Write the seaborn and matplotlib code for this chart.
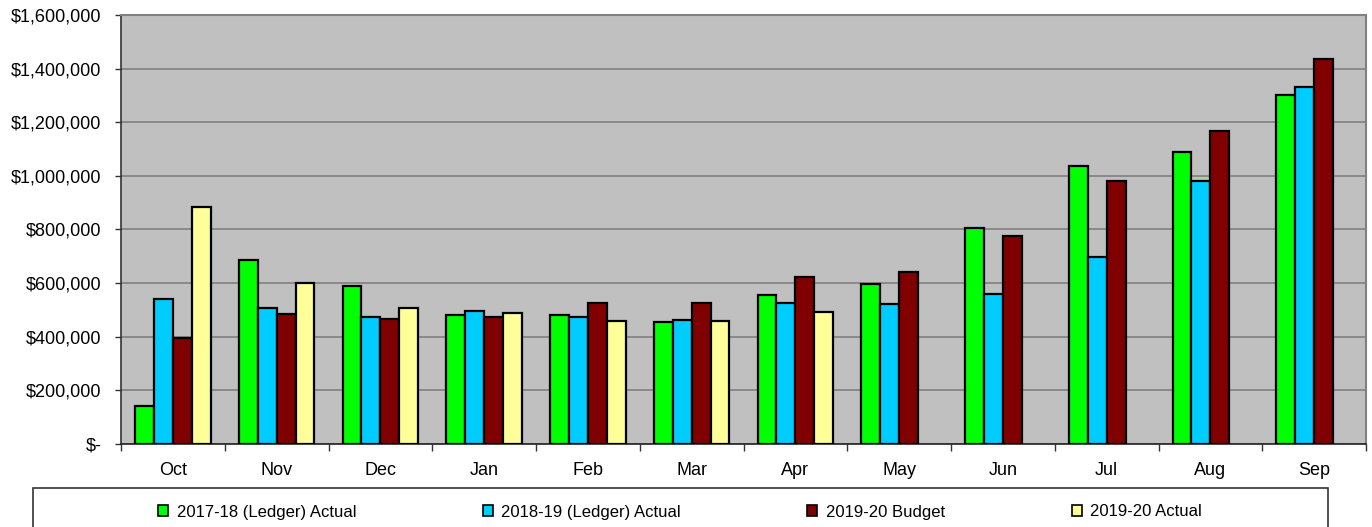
import numpy as np
import pandas as pd
import seaborn as sns
import matplotlib.pyplot as plt
from matplotlib.patches import Patch, Rectangle
from matplotlib.ticker import FuncFormatter, MultipleLocator

months = ['Oct', 'Nov', 'Dec', 'Jan', 'Feb', 'Mar', 'Apr', 'May', 'Jun', 'Jul', 'Aug', 'Sep']
series = ['2017-18 (Ledger) Actual', '2018-19 (Ledger) Actual', '2019-20 Budget', '2019-20 Actual']

actual_1718 = [141000, 687000, 588000, 480000, 482000, 456000, 557000, 597000, 806000, 1038000, 1089000, 1300000]
actual_1819 = [541000, 506000, 472000, 496000, 472000, 462000, 527000, 522000, 558000, 696000, 981000, 1330000]
budget_1920 = [394000, 485000, 465000, 475000, 527000, 527000, 622000, 640000, 777000, 982000, 1167000, 1436000]
actual_1920 = [884000, 602000, 506000, 490000, 459000, 460000, 493000, np.nan, np.nan, np.nan, np.nan, np.nan]

colors = ['#00FF00', '#00CCFF', '#800000', '#FFFF99']

# long format for seaborn
df = pd.DataFrame({
    'month': months * 4,
    'series': np.repeat(series, len(months)),
    'value': actual_1718 + actual_1819 + budget_1920 + actual_1920,
})

sns.set_style('white')
plt.rcParams['font.family'] = ['Liberation Sans', 'DejaVu Sans']
plt.rcParams['text.color'] = 'black'

fig = plt.figure(figsize=(13.72, 5.27), dpi=100)
ax = fig.add_axes([121 / 1372, 1 - 444 / 527, 1245 / 1372, 429 / 527])
ax.set_facecolor('#C0C0C0')

sns.barplot(data=df, x='month', y='value', hue='series', order=months, hue_order=series,
            palette=colors, saturation=1, width=0.73, edgecolor='black', linewidth=1.6,
            legend=False, ax=ax, zorder=3)

ax.set_ylim(0, 1600000)
ax.set_xlim(-0.5, 11.5)
ax.yaxis.set_major_locator(MultipleLocator(200000))
ax.yaxis.set_major_formatter(FuncFormatter(lambda v, p: '$-' if v == 0 else f'${v:,.0f}'))
ax.grid(axis='y', color='#808080', linewidth=1.2, zorder=0)
ax.set_axisbelow(True)
ax.set_xlabel('')
ax.set_ylabel('')

ax.tick_params(axis='y', which='major', left=True, length=4, width=1, color='#333333',
               pad=10, labelsize=13, labelcolor='black')
ax.tick_params(axis='x', which='major', length=0, pad=13, labelsize=13, labelcolor='black')
ax.set_xticks(np.arange(-0.5, 12, 1), minor=True)
ax.tick_params(axis='x', which='minor', bottom=True, length=5, width=1, color='#333333')

for side in ['top', 'right']:
    ax.spines[side].set_color('#808080')
    ax.spines[side].set_linewidth(1.5)
ax.spines['left'].set_color('#333333')
ax.spines['bottom'].set_color('#222222')
ax.spines['left'].set_linewidth(1.2)
ax.spines['bottom'].set_linewidth(1.2)

# legend box running past the bottom edge
fig.patches.append(Rectangle((33 / 1372, -0.05), (1328 - 33) / 1372, 0.05 + (527 - 488) / 527,
                             transform=fig.transFigure, facecolor='white',
                             edgecolor='#333333', linewidth=1.2))
handles = [Patch(facecolor=c, edgecolor='black', linewidth=1.2) for c in colors]
fig.legend(handles, series, loc='center', bbox_to_anchor=(680 / 1372, 1 - 512 / 527),
           ncol=4, frameon=False, fontsize=12, handlelength=0.6, handleheight=0.6,
           handletextpad=0.5, columnspacing=7.6, labelcolor='black')

fig.savefig('out.png', dpi=100)
